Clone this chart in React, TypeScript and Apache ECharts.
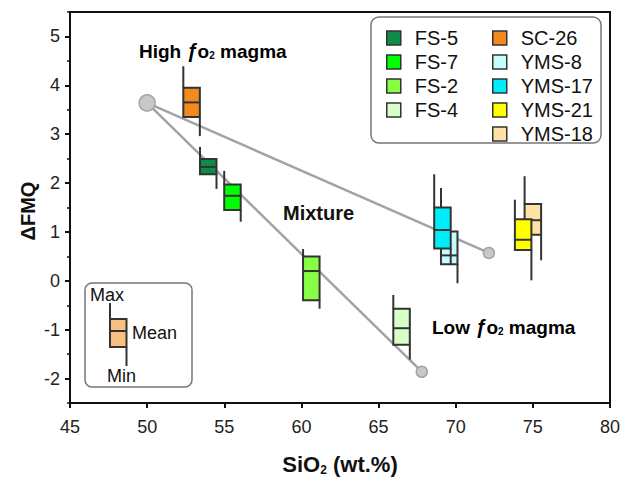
import React, { useEffect, useRef } from "react";
import * as echarts from "echarts";

// Samples (draw order: overlapping boxes drawn later appear on top)
const sampleNames = ["SC-26", "FS-5", "FS-7", "FS-2", "FS-4", "YMS-8", "YMS-17", "YMS-18", "YMS-21"];
const sampleColors = ["#f28a1e", "#0c8c48", "#00ff00", "#88ff44", "#d9ffc9", "#c5fdfd", "#00eefc", "#ffe2a6", "#ffff00"];
const sio2 = [52.88, 53.96, 55.53, 60.64, 66.49, 69.58, 69.14, 75.0, 74.37];
const fmqMin = [2.96, 1.88, 1.21, -0.57, -1.61, -0.05, 0.32, 0.42, 0.01];
const fmqLow = [3.35, 2.18, 1.45, -0.4, -1.31, 0.34, 0.66, 0.94, 0.63];
const fmqMean = [3.65, 2.33, 1.74, 0.2, -0.97, 0.52, 1.04, 1.24, 0.84];
const fmqHigh = [3.95, 2.49, 1.97, 0.5, -0.57, 1.01, 1.5, 1.57, 1.26];
const fmqMax = [4.39, 2.74, 2.25, 0.65, -0.29, 1.9, 2.18, 2.14, 1.66];

const legendCol1 = ["FS-5", "FS-7", "FS-2", "FS-4"];
const legendCol2 = ["SC-26", "YMS-8", "YMS-17", "YMS-21", "YMS-18"];

// Mixing end-members
const endX = [50.0, 72.15, 67.8];
const endY = [3.64, 0.57, -1.86];
const endSize = [16, 11, 11];

const xTicks = { min: 45, max: 80, interval: 5 };
const yRange = { min: -2.5, max: 5.5 };
const yTickValues = [-2, -1, 0, 1, 2, 3, 4, 5];
const yMinorInterval = 0.5;

const BOX_W = 1.07; // in SiO2 units
const EDGE = "#333333";

export default function App() {
  const ref = useRef<HTMLDivElement>(null);
  useEffect(() => {
    if (!ref.current) return;
    const chart = echarts.init(ref.current, null, { renderer: "svg" });
    const font = "'Liberation Sans', Arial, sans-serif";

    const boxSeries = sampleNames.map((name, i) => ({
      name,
      type: "custom",
      z: 5,
      itemStyle: { color: sampleColors[i], borderColor: EDGE, borderWidth: 1.5 },
      data: [[sio2[i], fmqMin[i], fmqLow[i], fmqMean[i], fmqHigh[i], fmqMax[i]]],
      renderItem: (params: any, api: any) => {
        const x = api.value(0);
        const pMin = api.coord([x, api.value(1)]);
        const pLow = api.coord([x, api.value(2)]);
        const pMean = api.coord([x, api.value(3)]);
        const pHigh = api.coord([x, api.value(4)]);
        const pMax = api.coord([x, api.value(5)]);
        const hw = api.size([BOX_W, 0])[0] / 2;
        const l = pMin[0] - hw;
        const r = pMin[0] + hw;
        const ls = { stroke: EDGE, lineWidth: 2 };
        return {
          type: "group",
          children: [
            { type: "line", shape: { x1: l, y1: pHigh[1], x2: l, y2: pMax[1] }, style: ls },
            { type: "line", shape: { x1: r, y1: pLow[1], x2: r, y2: pMin[1] }, style: ls },
            {
              type: "rect",
              shape: { x: l, y: pHigh[1], width: r - l, height: pLow[1] - pHigh[1] },
              style: { fill: sampleColors[i], stroke: EDGE, lineWidth: 2 },
            },
            { type: "line", shape: { x1: l, y1: pMean[1], x2: r, y2: pMean[1] }, style: ls },
          ],
        };
      },
    }));

    const lineStyleGray = { color: "#a3a3a3", width: 2.5 };
    const mixLines = [1, 2].map((k) => ({
      type: "line",
      z: 2,
      silent: true,
      symbol: "none",
      lineStyle: lineStyleGray,
      data: [
        [endX[0], endY[0]],
        [endX[k], endY[k]],
      ],
    }));

    const richMagma = {
      b: { fontFamily: font, fontWeight: "bold", fontSize: 19, color: "#111" },
      i: { fontFamily: font, fontWeight: "bold", fontStyle: "italic", fontSize: 20, color: "#111" },
      s: { fontFamily: font, fontWeight: "bold", fontSize: 10, color: "#111", padding: [9, 0, 0, 0] },
    };

    const legendCommon = {
      orient: "vertical",
      icon: "rect",
      itemWidth: 14,
      itemHeight: 14,
      itemGap: 4,
      selectedMode: false,
      itemStyle: { borderColor: EDGE, borderWidth: 1.5 },
      textStyle: { fontFamily: font, fontSize: 20, color: "#111", lineHeight: 20, padding: [0, 0, 0, 9] },
    };

    const axisLineStyle = { color: "#111", width: 2 };

    chart.setOption({
      animation: false,
      backgroundColor: "#fff",
      grid: {
        left: 70,
        right: 16,
        top: 12,
        bottom: 72,
        show: true,
        borderColor: "#111",
        borderWidth: 2,
      },
      xAxis: {
        type: "value",
        min: xTicks.min,
        max: xTicks.max,
        interval: xTicks.interval,
        name: "SiO{sub|2} (wt.%)",
        nameLocation: "middle",
        nameGap: 50,
        nameTextStyle: {
          fontFamily: font,
          fontWeight: "bold",
          fontSize: 22,
          color: "#111",
          rich: {
            sub: { fontFamily: font, fontWeight: "bold", fontSize: 12, color: "#111", padding: [11, 0, 0, 0] },
          },
        },
        axisLine: { show: true, onZero: false, lineStyle: axisLineStyle },
        axisTick: { show: true, inside: false, length: 5, lineStyle: axisLineStyle },
        splitLine: { show: false },
        axisLabel: { fontFamily: font, fontSize: 18, color: "#222", margin: 15 },
      },
      yAxis: [
        {
          type: "value",
          min: yRange.min,
          max: yRange.max,
          axisLine: { show: true, onZero: false, lineStyle: axisLineStyle },
          axisTick: { show: true, inside: false, length: 5, lineStyle: axisLineStyle, customValues: yTickValues },
          splitLine: { show: false },
          axisLabel: {
            fontFamily: font,
            fontSize: 18,
            color: "#222",
            margin: 10,
            customValues: yTickValues,
          },
        },
        {
          type: "value",
          position: "left",
          min: yRange.min,
          max: yRange.max,
          interval: yMinorInterval,
          axisLine: { show: false, onZero: false },
          axisTick: { show: true, inside: false, length: 3, lineStyle: { color: "#111", width: 1.5 } },
          splitLine: { show: false },
          axisLabel: { show: false },
        },
      ],
      legend: [
        { ...legendCommon, data: legendCol1, left: 381, top: 23 },
        { ...legendCommon, data: legendCol2, left: 487, top: 23 },
      ],
      graphic: [
        {
          type: "rect",
          shape: { x: 371, y: 17, width: 230, height: 126, r: 8 },
          style: { fill: "none", stroke: "#777", lineWidth: 1.5 },
          z: 1,
        },
        // inset key
        {
          type: "rect",
          shape: { x: 85, y: 283, width: 107, height: 104, r: 7 },
          style: { fill: "#fff", stroke: "#777", lineWidth: 1.5 },
          z: 10,
        },
        { type: "line", shape: { x1: 110, y1: 303, x2: 110, y2: 319 }, style: { stroke: EDGE, lineWidth: 2 }, z: 11 },
        { type: "line", shape: { x1: 126.5, y1: 347, x2: 126.5, y2: 366 }, style: { stroke: EDGE, lineWidth: 2 }, z: 11 },
        {
          type: "rect",
          shape: { x: 110, y: 319, width: 16.5, height: 28 },
          style: { fill: "#f9c083", stroke: EDGE, lineWidth: 2 },
          z: 11,
        },
        { type: "line", shape: { x1: 110, y1: 331, x2: 126.5, y2: 331 }, style: { stroke: EDGE, lineWidth: 2 }, z: 11 },
        {
          type: "text",
          x: 90,
          y: 295,
          z: 11,
          style: { text: "Max", fontFamily: font, fontSize: 18, fill: "#111", textVerticalAlign: "middle" },
        },
        {
          type: "text",
          x: 132,
          y: 333,
          z: 11,
          style: { text: "Mean", fontFamily: font, fontSize: 18, fill: "#111", textVerticalAlign: "middle" },
        },
        {
          type: "text",
          x: 107,
          y: 376,
          z: 11,
          style: { text: "Min", fontFamily: font, fontSize: 18, fill: "#111", textVerticalAlign: "middle" },
        },
        // annotations
        {
          type: "text",
          x: 139,
          y: 51,
          z: 11,
          style: {
            text: "{b|High }{i|ƒ}{b|o}{s|2}{b| magma}",
            rich: richMagma,
            textVerticalAlign: "middle",
          },
        },
        {
          type: "text",
          x: 283,
          y: 213,
          z: 11,
          style: {
            text: "Mixture",
            fontFamily: font,
            fontWeight: "bold",
            fontSize: 20,
            fill: "#111",
            textVerticalAlign: "middle",
          },
        },
        {
          type: "text",
          x: 432,
          y: 327,
          z: 11,
          style: {
            text: "{b|Low }{i|ƒ}{b|o}{s|2}{b| magma}",
            rich: richMagma,
            textVerticalAlign: "middle",
          },
        },
        {
          type: "text",
          x: 28,
          y: 211,
          rotation: Math.PI / 2,
          z: 11,
          style: {
            text: "ΔFMQ",
            fontFamily: font,
            fontWeight: "bold",
            fontSize: 20,
            fill: "#111",
            textAlign: "center",
            textVerticalAlign: "middle",
          },
        },
      ],
      series: [
        ...mixLines,
        {
          type: "scatter",
          z: 3,
          silent: true,
          data: endX.map((x, i) => ({ value: [x, endY[i]], symbolSize: endSize[i] })),
          itemStyle: { color: "#c8c8c8", borderColor: "#a3a3a3", borderWidth: 1.5, opacity: 1 },
        },
        ...boxSeries,
      ],
    });
    return () => chart.dispose();
  }, []);
  return <div ref={ref} style={{ position: "absolute", left: 0, top: 0, width: 626, height: 481 }} />;
}
